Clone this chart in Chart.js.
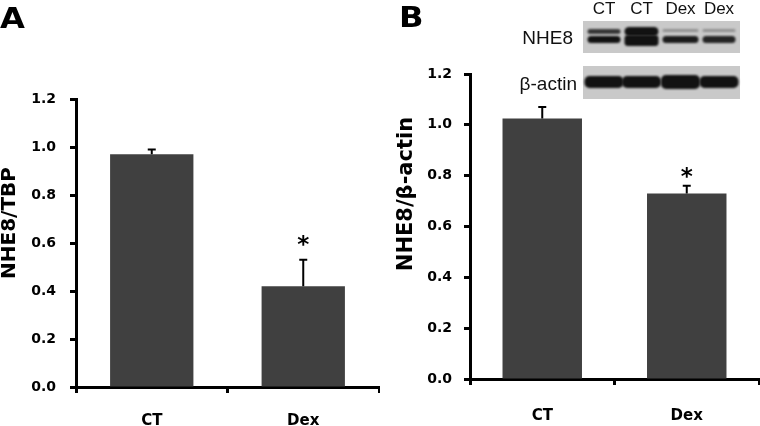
<!DOCTYPE html>
<html><head><meta charset="utf-8">
<script src="https://cdn.jsdelivr.net/npm/chart.js@4"></script>
<style>
body{margin:0;background:#fff;width:760px;height:426px;overflow:hidden;position:relative}
canvas{position:absolute;top:0}
</style></head>
<body>
<canvas id="a" width="380" height="426" style="left:0"></canvas>
<canvas id="b" width="380" height="426" style="left:380px"></canvas>
<script>
// ---- data ----
const categories = ['CT', 'Dex'];
const tbpMeans = [0.97, 0.42];
const tbpErrors = [0.02, 0.11];
const actinMeans = [1.025, 0.73];
const actinErrors = [0.045, 0.03];
const significance = ['', '*'];
const yMin = 0, yMax = 1.2, yStep = 0.2;
const blotLanes = ['CT', 'CT', 'Dex', 'Dex'];
const nheUpperBand = [0.8, 1.0, 0.3, 0.3];
const nheLowerBand = [1.0, 1.0, 0.95, 0.9];
const actinBand = [1.0, 1.0, 1.0, 1.0];

const FONT = '"DejaVu Sans"';

const errorPlugin = {
  id: 'errbars',
  afterDatasetsDraw(chart, args, o) {
    const ctx = chart.ctx, y = chart.scales.y;
    const meta = chart.getDatasetMeta(0);
    const ds = chart.data.datasets[0];
    ctx.save();
    ctx.strokeStyle = '#000';
    ctx.lineWidth = 2;
    meta.data.forEach((bar, i) => {
      const v = ds.data[i], e = o.errors[i];
      const yb = y.getPixelForValue(v), yt = y.getPixelForValue(v + e);
      ctx.beginPath();
      ctx.moveTo(bar.x, yb); ctx.lineTo(bar.x, yt);
      ctx.moveTo(bar.x - 4, yt); ctx.lineTo(bar.x + 4, yt);
      ctx.stroke();
      if (o.marks[i]) {
        ctx.fillStyle = '#000';
        ctx.font = 'bold 23px ' + FONT;
        ctx.textAlign = 'center';
        ctx.textBaseline = 'alphabetic';
        ctx.fillText(o.marks[i], bar.x, yt - o.starGap);
      }
    });
    ctx.restore();
  }
};

const decorPlugin = {
  id: 'decor',
  afterDraw(chart, args, o) {
    const ctx = chart.ctx;
    ctx.save();
    ctx.fillStyle = '#000';
    ctx.font = 'bold ' + o.titleSize + 'px ' + FONT;
    ctx.textAlign = 'center';
    ctx.textBaseline = 'middle';
    ctx.translate(o.titleX, o.titleY);
    ctx.rotate(-Math.PI / 2);
    ctx.fillText(o.title, 0, 0);
    ctx.restore();
    ctx.save();
    ctx.fillStyle = '#000';
    ctx.font = 'bold 28px ' + FONT;
    ctx.textAlign = 'left';
    ctx.textBaseline = 'alphabetic';
    ctx.translate(o.panelX, o.panelY);
    ctx.scale(1.15, 1);
    ctx.fillText(o.panel, 0, 0);
    ctx.restore();
  }
};

const blotPlugin = {
  id: 'blot',
  afterDraw(chart, args, o) {
    if (!o.show) return;
    const ctx = chart.ctx;
    const bx = 203, bw = 157;
    const boxes = [{y: 21, h: 32}, {y: 66, h: 33}];
    ctx.save();
    boxes.forEach(b => { ctx.fillStyle = '#c9c9c9'; ctx.fillRect(bx, b.y, bw, b.h); });
    const centers = [224, 261.5, 300.5, 339];
    const widths = [33, 34, 36, 33];
    ctx.filter = 'blur(1.3px)';
    blotLanes.forEach((l, i) => {
      const cx = centers[i], w = widths[i];
      ctx.fillStyle = 'rgba(18,18,18,' + nheUpperBand[i] + ')';
      const uh = i === 1 ? 9 : (nheUpperBand[i] > 0.5 ? 5 : 3);
      ctx.beginPath(); ctx.roundRect(cx - w / 2, (i === 1 ? 27 : 29), w, uh, uh / 2); ctx.fill();
      ctx.fillStyle = 'rgba(18,18,18,' + nheLowerBand[i] + ')';
      const lh = i === 1 ? 11 : 7;
      ctx.beginPath(); ctx.roundRect(cx - w / 2, (i === 1 ? 35 : 36), w, lh, 3.5); ctx.fill();
      ctx.fillStyle = 'rgba(18,18,18,' + actinBand[i] + ')';
      const ah = i === 2 ? 14 : 12;
      ctx.beginPath(); ctx.roundRect(cx - 19.5, 82 - ah / 2, 39, ah, 5); ctx.fill();
    });
    ctx.filter = 'none';
    ctx.fillStyle = '#111';
    ctx.font = '17px "Liberation Sans"';
    ctx.textAlign = 'center';
    ctx.textBaseline = 'alphabetic';
    blotLanes.forEach((l, i) => ctx.fillText(l, centers[i], 14));
    ctx.font = '19px "Liberation Sans"';
    ctx.textAlign = 'right';
    ctx.fillText('NHE8', 193, 44);
    ctx.fillText('\u03b2-actin', 197, 90);
    ctx.restore();
  }
};

function makeChart(id, means, errors, cfg) {
  return new Chart(document.getElementById(id), {
    type: 'bar',
    data: {labels: categories, datasets: [{data: means, backgroundColor: '#404040',
      barPercentage: 0.55, categoryPercentage: 1.0}]},
    options: {
      responsive: false, animation: false, events: [],
      layout: {padding: {top: cfg.top, right: 1, left: 0, bottom: 0}},
      plugins: {
        legend: {display: false}, tooltip: {enabled: false},
        errbars: {errors: errors, marks: significance, starGap: cfg.starGap},
        decor: cfg.decor,
        blot: {show: cfg.blot}
      },
      scales: {
        x: {
          afterFit: s => { s.height = cfg.xh; },
          border: {display: true, color: '#000', width: 3},
          grid: {drawOnChartArea: false, drawTicks: true, tickLength: 6, tickWidth: 3, color: '#000', offset: true},
          ticks: {font: {family: FONT, weight: 'bold', size: 15}, color: '#000', padding: cfg.xpad}
        },
        y: {
          min: yMin, max: yMax,
          afterFit: s => { s.width = cfg.yw; },
          border: {display: true, color: '#000', width: 3},
          grid: {drawOnChartArea: false, drawTicks: true, tickLength: 6, tickWidth: 3, color: '#000'},
          ticks: {stepSize: yStep, font: {family: FONT, weight: 'bold', size: 14}, color: '#000', padding: cfg.ypad,
            callback: v => Number(v).toFixed(1)}
        }
      }
    },
    plugins: [errorPlugin, decorPlugin, blotPlugin]
  });
}

makeChart('a', tbpMeans, tbpErrors, {top: 99, xh: 39, yw: 76, xpad: 19, ypad: 14, starGap: 7.5, blot: false,
  decor: {title: 'NHE8/TBP', titleSize: 20, titleX: 10, titleY: 223, panel: 'A', panelX: 0, panelY: 28}});
makeChart('b', actinMeans, actinErrors, {top: 74, xh: 47, yw: 90, xpad: 22, ypad: 12, starGap: 2, blot: true,
  decor: {title: 'NHE8/\u03b2-actin', titleSize: 21, titleX: 27, titleY: 194, panel: 'B', panelX: 19, panelY: 27}});
</script>
</body></html>
